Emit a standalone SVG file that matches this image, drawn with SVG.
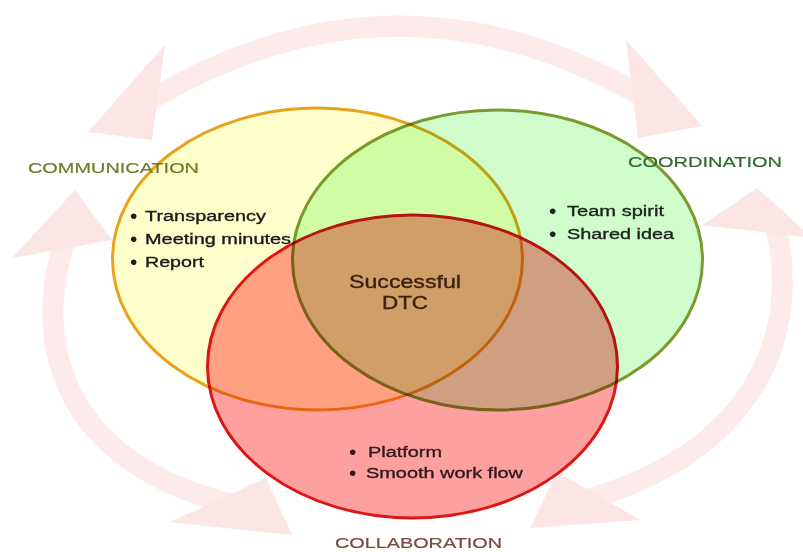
<svg xmlns="http://www.w3.org/2000/svg" width="803" height="552" viewBox="0 0 803 552">
  <style>
    .shaft { fill: none; stroke: #FDEAEA; stroke-width: 21; }
    .head { fill: #FCE5E5; }
    .blend { mix-blend-mode: multiply; }
    .t { font-family: "Liberation Sans", Arial, sans-serif; font-size: 15.5px; stroke-width: 0.35px; }
    .b { font-family: "Liberation Sans", Arial, sans-serif; font-size: 21px; }
    .lbl { font-family: "Liberation Sans", Arial, sans-serif; font-size: 15.5px; stroke-width: 0.2px; }
  </style>
  <rect width="803" height="552" fill="#FFFFFF"/>

  <g id="connectors">
    <path class="shaft" d="M150,100 Q395,-45 640,95"/>
    <polygon class="head" points="165,45 88,132 152,140"/>
    <polygon class="head" points="626,40 702,126 638,138"/>
    <path class="shaft" d="M65,240 C35,330 50,460 235,505"/>
    <polygon class="head" points="75,190 12,258 112,240"/>
    <polygon class="head" points="266,478 292,535 170,522"/>
    <path class="shaft" d="M776,228 C800,330 760,450 585,500"/>
    <polygon class="head" points="757,188 702,225 812,238"/>
    <polygon class="head" points="557,472 530,528 640,520"/>
  </g>

  <g id="communication">
    <ellipse cx="317.5" cy="259" rx="205" ry="151" fill="#FFFFCC" stroke="#E9A21B" stroke-width="3"/>
  </g>
  <g id="coordination" class="blend">
    <ellipse cx="497.5" cy="260" rx="205" ry="150" fill="#D0FCCC" stroke="#7A9A2E" stroke-width="3"/>
  </g>
  <g id="collaboration" class="blend">
    <ellipse cx="412.5" cy="366.5" rx="205" ry="151.5" fill="#FFA0A0" stroke="#DD1616" stroke-width="3"/>
  </g>

  <g id="communication-text">
    <text class="lbl" x="28" y="173" fill="#6F7D2B" stroke="#6F7D2B" textLength="171" lengthAdjust="spacingAndGlyphs">COMMUNICATION</text>
    <text class="b" x="130" y="223" fill="#1A1A1A">•</text>
    <text class="t" x="145" y="221" fill="#1A1A1A" stroke="#1A1A1A" textLength="121" lengthAdjust="spacingAndGlyphs">Transparency</text>
    <text class="b" x="130" y="246" fill="#1A1A1A">•</text>
    <text class="t" x="145" y="244" fill="#1A1A1A" stroke="#1A1A1A" textLength="146" lengthAdjust="spacingAndGlyphs">Meeting minutes</text>
    <text class="b" x="130" y="269" fill="#1A1A1A">•</text>
    <text class="t" x="145" y="267" fill="#1A1A1A" stroke="#1A1A1A" textLength="59" lengthAdjust="spacingAndGlyphs">Report</text>
  </g>

  <g id="coordination-text">
    <text class="lbl" x="628" y="167" fill="#2F6B2F" stroke="#2F6B2F" textLength="154" lengthAdjust="spacingAndGlyphs">COORDINATION</text>
    <text class="b" x="549" y="218" fill="#1A221A">•</text>
    <text class="t" x="567" y="216" fill="#1A221A" stroke="#1A221A" textLength="97" lengthAdjust="spacingAndGlyphs">Team spirit</text>
    <text class="b" x="549" y="241" fill="#1A221A">•</text>
    <text class="t" x="567" y="239" fill="#1A221A" stroke="#1A221A" textLength="107" lengthAdjust="spacingAndGlyphs">Shared idea</text>
  </g>

  <g id="center">
    <text x="349" y="288" fill="#3A2212" stroke="#3A2212" stroke-width="0.35" font-family="Liberation Sans, Arial, sans-serif" font-size="17.5" textLength="112" lengthAdjust="spacingAndGlyphs">Successful</text>
    <text x="382" y="309" fill="#3A2212" stroke="#3A2212" stroke-width="0.35" font-family="Liberation Sans, Arial, sans-serif" font-size="17.5" textLength="46" lengthAdjust="spacingAndGlyphs">DTC</text>
  </g>

  <g id="collaboration-text">
    <text class="b" x="349" y="459" fill="#2E1A1A">•</text>
    <text class="t" x="368" y="457" fill="#2E1A1A" stroke="#2E1A1A" textLength="74" lengthAdjust="spacingAndGlyphs">Platform</text>
    <text class="b" x="349" y="480" fill="#2E1A1A">•</text>
    <text class="t" x="366" y="478" fill="#2E1A1A" stroke="#2E1A1A" textLength="157" lengthAdjust="spacingAndGlyphs">Smooth work flow</text>
    <text class="lbl" x="335" y="548" fill="#7B4A3B" stroke="#7B4A3B" textLength="167" lengthAdjust="spacingAndGlyphs">COLLABORATION</text>
  </g>
</svg>
